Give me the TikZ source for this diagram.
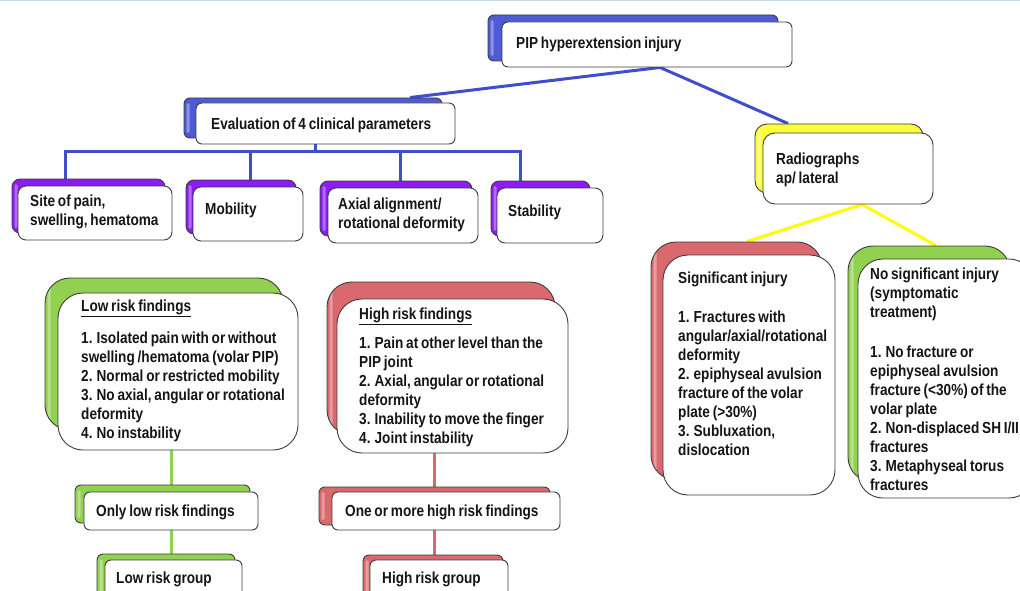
\documentclass[tikz,border=0pt]{standalone}
\usepackage{fontspec}
\setmainfont{Liberation Sans}[FakeStretch=0.85, WordSpace=0.75]
\usetikzlibrary{fit,calc}
\definecolor{blueC}{HTML}{4F5BD5}
\definecolor{blueL}{HTML}{3F4FCC}
\definecolor{purpC}{HTML}{8C1CF5}
\definecolor{yelC}{HTML}{FFFF3A}
\definecolor{yelL}{HTML}{FFFF00}
\definecolor{redC}{HTML}{D9696F}
\definecolor{greenC}{HTML}{92D050}
\definecolor{edgeC}{HTML}{3C3C3C}
\definecolor{txtC}{HTML}{151515}
\definecolor{topC}{HTML}{C5D9EC}
\pgfdeclarelayer{bg}
\pgfsetlayers{bg,main}
\begin{document}
\begin{tikzpicture}[x=1pt,y=-1pt,
 back/.style={draw=edgeC, line width=0.9pt, fill=#1, inner sep=0pt,
   path picture={\fill[white, opacity=0.35, rounded corners=1.5pt]
     ($(path picture bounding box.north west)+(2.5,5)$) rectangle
     ($(path picture bounding box.south west)+(5.5,-5)$);}},
 front/.style={draw=edgeC, line width=0.9pt, fill=white, inner sep=0pt},
 rc/.style={rounded corners=#1},
 txt/.style={font=\bfseries\fontsize{16}{19}\selectfont, text=txtC, inner sep=0pt, align=left},
 conn/.style={line width=3pt, draw=#1},
]
\useasboundingbox (0,0) rectangle (1020,591);
\clip (0,0) rectangle (1020,591);
\draw[topC, line width=2.4pt] (0,0) -- (1020,0);

% top
\node[back=blueC, rc=6pt, fit={(488,15)(778,61)}] (pipb) {};
\node[front, rc=6pt, fit={(502,22)(792,67)}] (pipf) {};
\node[txt, anchor=west] (piptx) at (516,44.5) {PIP hyperextension injury};

\node[back=blueC, rc=6pt, fit={(184,98)(442,138)}] (evalb) {};
\node[front, rc=6pt, fit={(196,103)(455,144)}] (evalf) {};
\node[txt, anchor=west] (evaltx) at (211,125.5) {Evaluation of 4 clinical parameters};

% parameters
\node[back=purpC, rc=8pt, fit={(12,179)(165,233)}] (siteb) {};
\node[front, rc=8pt, fit={(18,186)(172,240)}] (sitef) {};
\node[txt, anchor=north west] (sitetx) at (30,195) {Site of pain,\\swelling, hematoma};

\node[back=purpC, rc=8pt, fit={(186,180)(296,234)}] (mobb) {};
\node[front, rc=8pt, fit={(193,187)(303,241)}] (mobf) {};
\node[txt, anchor=west] (mobtx) at (205,210.5) {Mobility};

\node[back=purpC, rc=8pt, fit={(320,181)(472,236)}] (axb) {};
\node[front, rc=8pt, fit={(328,188)(478,243)}] (axf) {};
\node[txt, anchor=north west] (axtx) at (338,198) {Axial alignment/\\rotational deformity};

\node[back=purpC, rc=8pt, fit={(491,181)(590,236)}] (stb) {};
\node[front, rc=8pt, fit={(497,188)(603,243)}] (stf) {};
\node[txt, anchor=west] (sttx) at (508,212.5) {Stability};

% radiographs
\node[back=yelC, rc=12pt, fit={(755,124)(923,193)}] (radb) {};
\node[front, rc=12pt, fit={(763,133)(933,204)}] (radf) {};
\node[txt, anchor=north west] (radtx) at (776,153) {Radiographs\\ap/ lateral};

\node[back=redC, rc=25pt, fit={(651,242)(822,480)}] (sigb) {};
\node[front, rc=25pt, fit={(663,255)(835,495)}] (sigf) {};
\node[txt, anchor=north west] (sigtx) at (678,272) {Significant injury\\[20pt]1. Fractures with\\angular/axial/rotational\\deformity\\2. epiphyseal avulsion\\fracture of the volar\\plate (>30\%)\\3. Subluxation,\\dislocation};

\node[back=greenC, rc=25pt, fit={(848,246)(1010,482)}] (nsb) {};
\node[front, rc=25pt, fit={(858,259)(1034,498)}] (nsf) {};
\node[txt, anchor=north west] (nstx) at (870,268) {No significant injury\\(symptomatic\\treatment)\\[21pt]1. No fracture or\\epiphyseal avulsion\\fracture (<30\%) of the\\volar plate\\2. Non-displaced SH I/II\\fractures\\3. Metaphyseal torus\\fractures};

% findings
\node[back=greenC, rc=25pt, fit={(45,278)(283,430)}] (lowb) {};
\node[front, rc=25pt, fit={(58,293)(298,450)}] (lowf) {};
\node[txt, anchor=north west] (lowtx) at (81,300) {\underline{Low risk findings}\\[13pt]1. Isolated pain with or without\\swelling /hematoma (volar PIP)\\2. Normal or restricted mobility\\3. No axial, angular or rotational\\deformity\\4. No instability};

\node[back=redC, rc=25pt, fit={(327,282)(555,435)}] (highb) {};
\node[front, rc=25pt, fit={(337,299)(568,453)}] (highf) {};
\node[txt, anchor=north west] (hightx) at (359,308) {\underline{High risk findings}\\[10pt]1. Pain at other level than the\\PIP joint\\2. Axial, angular or rotational\\deformity\\3. Inability to move the finger\\4. Joint instability};

% bottom
\node[back=greenC, rc=6pt, fit={(75,485)(250,523)}] (onlyb) {};
\node[front, rc=6pt, fit={(84,492)(258,530)}] (onlyf) {};
\node[txt, anchor=west] (onlytx) at (96,512.5) {Only low risk findings};

\node[back=greenC, rc=6pt, fit={(97,554)(235,600)}] (lgb) {};
\node[front, rc=6pt, fit={(105,560)(242,605)}] (lgf) {};
\node[txt, anchor=west] (lgtx) at (116,579.5) {Low risk group};

\node[back=redC, rc=6pt, fit={(319,487)(550,525)}] (oneb) {};
\node[front, rc=6pt, fit={(332,492)(560,530)}] (onef) {};
\node[txt, anchor=west] (onetx) at (345,512.5) {One or more high risk findings};

\node[back=redC, rc=6pt, fit={(363,555)(503,600)}] (hgb) {};
\node[front, rc=6pt, fit={(370,560)(508,605)}] (hgf) {};
\node[txt, anchor=west] (hgtx) at (382,579.5) {High risk group};

% connectors
\coordinate (bus0) at (315,152);
\coordinate (b1) at (65,152);
\coordinate (b2) at (250,152);
\coordinate (b3) at (400,152);
\coordinate (b4) at (520,152);
\coordinate (stemL) at (171,0);
\coordinate (stemH) at (434,0);
\begin{pgfonlayer}{bg}
\draw[conn=blueL] ([xshift=13pt]pipf.south) -- ([xshift=97pt]evalb.north);
\draw[conn=blueL] ([xshift=13pt]pipf.south) -- ([xshift=-51pt]radb.north);
\draw[conn=blueL] (evalf.south -| bus0) -- (bus0);
\draw[conn=blueL, line cap=rect] (b1) -- (b4);
\draw[conn=blueL] (b1) -- (b1 |- siteb.north);
\draw[conn=blueL] (b2) -- (b2 |- mobb.north);
\draw[conn=blueL] (b3) -- (b3 |- axb.north);
\draw[conn=blueL] (b4) -- (b4 |- stb.north);
\draw[conn=yelL] ([xshift=14pt]radf.south) -- ([xshift=10.5pt]sigb.north);
\draw[conn=yelL] ([xshift=14pt]radf.south) -- ([xshift=7pt]nsb.north);
\draw[conn=greenC] (lowf.south -| stemL) -- (onlyb.north -| stemL);
\draw[conn=greenC] (onlyf.south -| stemL) -- (lgb.north -| stemL);
\draw[conn=redC] (highf.south -| stemH) -- (oneb.north -| stemH);
\draw[conn=redC] (onef.south -| stemH) -- (hgb.north -| stemH);
\end{pgfonlayer}
\end{tikzpicture}
\end{document}
